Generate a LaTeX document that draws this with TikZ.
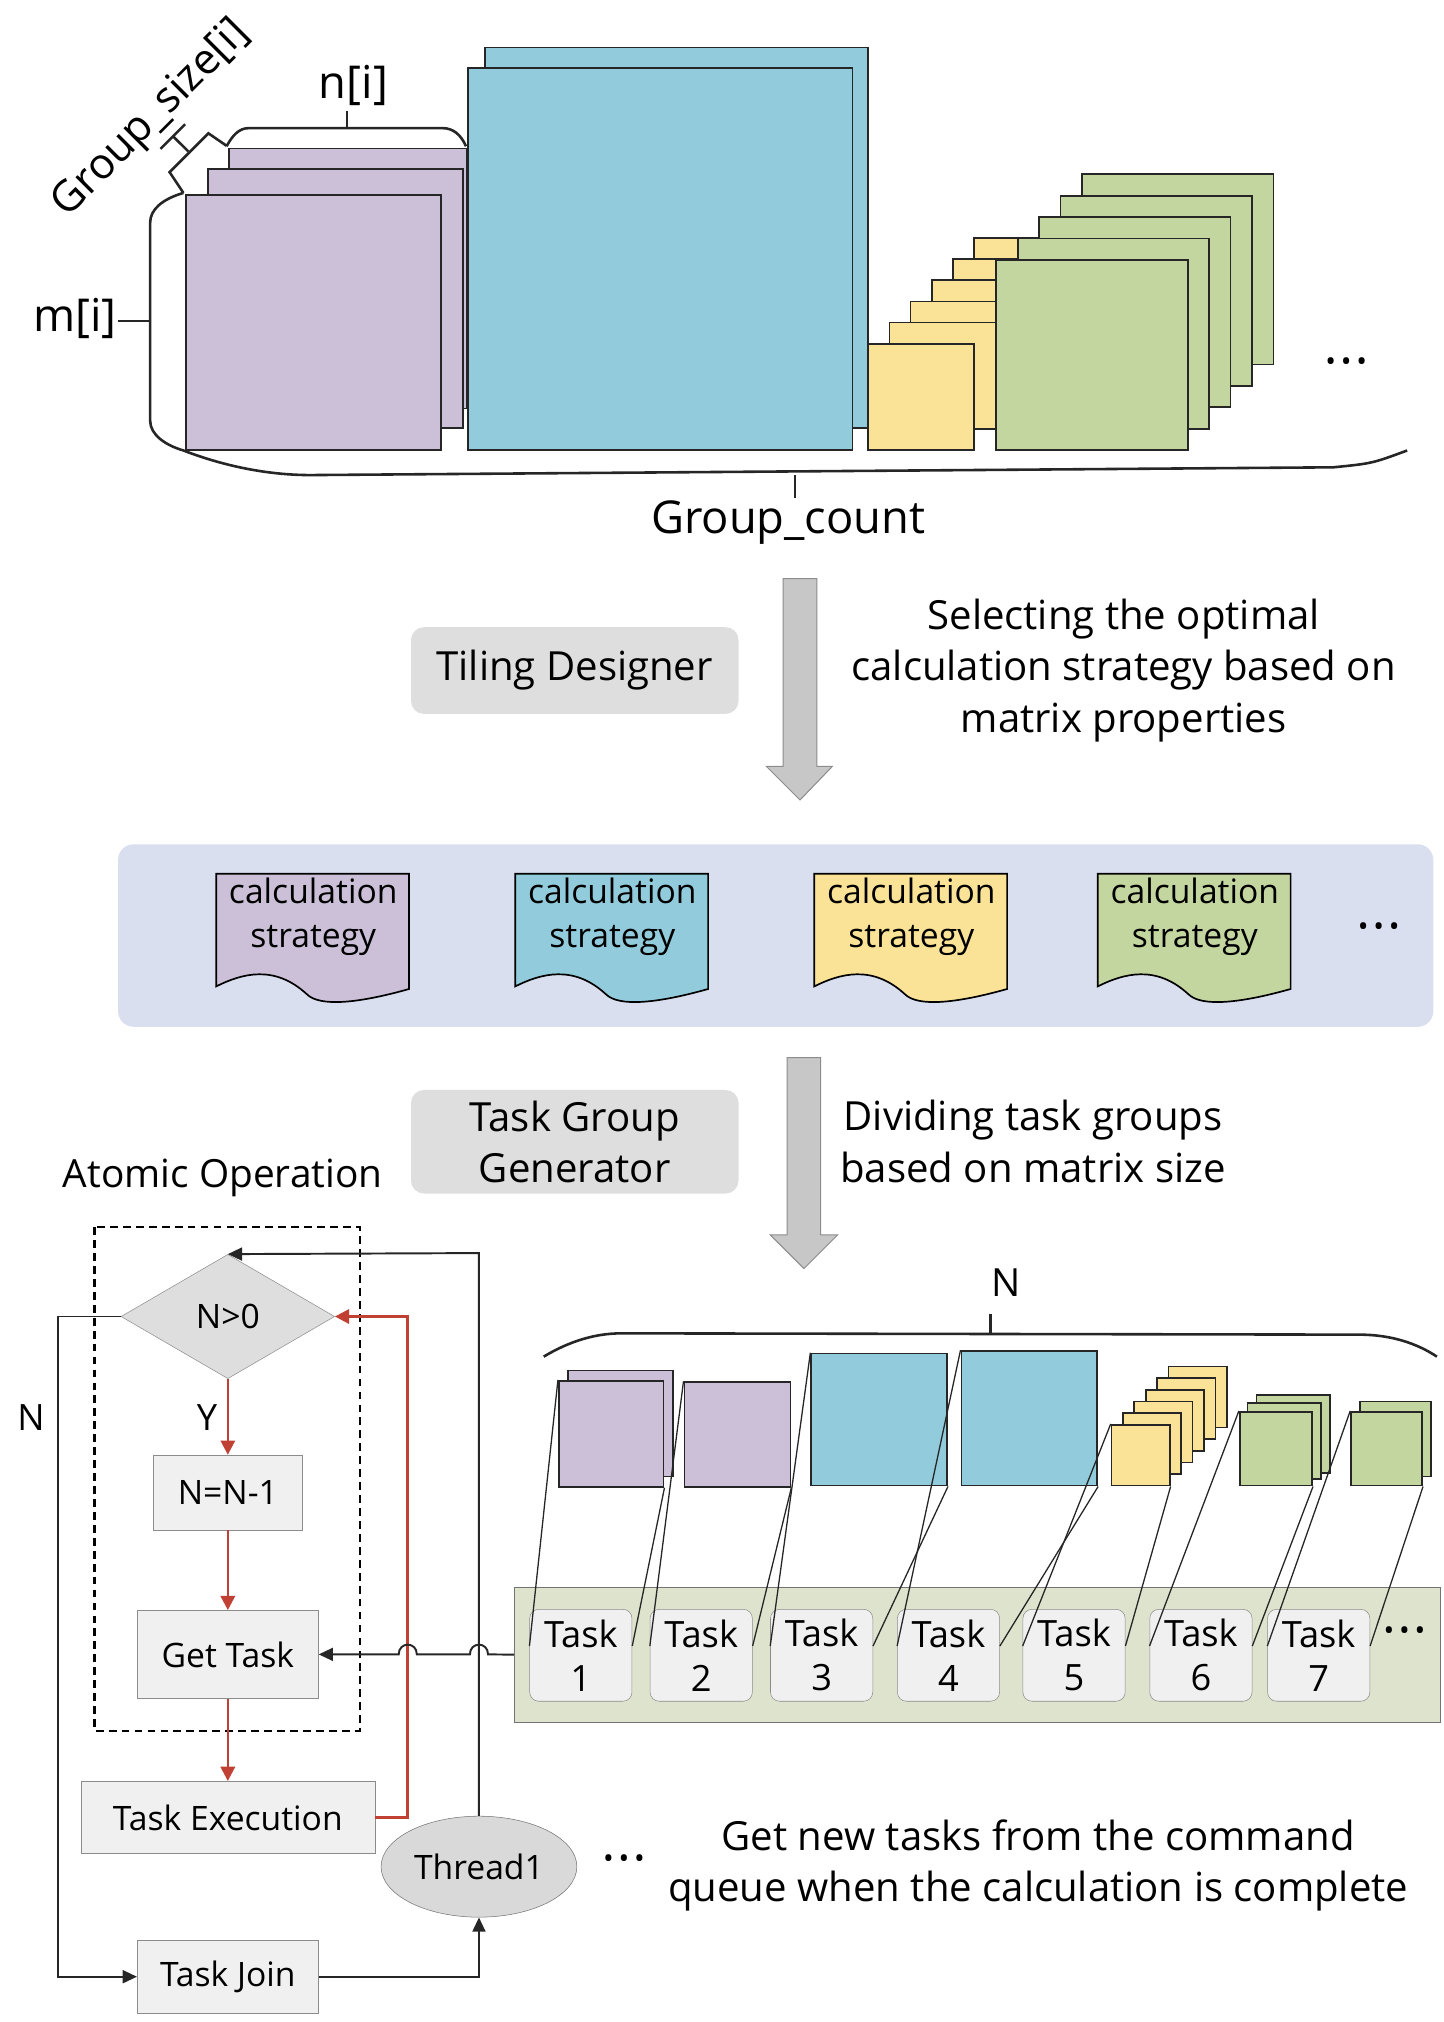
\documentclass[tikz,border=0pt]{standalone}
\usepackage{fontspec}
\setmainfont{Open Sans}
\usetikzlibrary{arrows.meta,shapes.geometric,calc}
\definecolor{cpur}{RGB}{203,192,216}
\definecolor{ccya}{RGB}{146,204,220}
\definecolor{cyel}{RGB}{250,226,150}
\definecolor{cgrn}{RGB}{196,214,160}
\definecolor{cpanel}{RGB}{218,223,240}
\definecolor{ctask}{RGB}{221,227,205}
\definecolor{cred}{RGB}{192,64,52}
\tikzset{
 mat/.style={draw=black!85,line width=1.3pt,inner sep=0pt,anchor=north west},
 lbl/.style={font=\fontsize{30}{36}\selectfont},
 toplbl/.style={font=\fontsize{35}{40}\selectfont,inner sep=1pt},
 big/.style={font=\fontsize{31}{40}\selectfont,align=center},
 graybox/.style={rounded corners=10pt,fill=black!13,font=\fontsize{31}{39}\selectfont,align=center},
 blockarrow/.style={fill=black!22,draw=black!45,line width=0.8pt},
 flow/.style={draw=black!45,fill=black!6,font=\fontsize{26}{30}\selectfont,inner sep=4pt},
 taskbox/.style={draw=black!45,fill=black!6,rounded corners=7pt,font=\fontsize{28}{34}\selectfont,align=center,minimum width=79pt,minimum height=71pt,inner sep=0pt},
 redarr/.style={draw=cred,line width=2pt,-{Triangle[length=11pt,width=11pt]}},
 blkarr/.style={draw=black!85,line width=1.5pt,-{Triangle[length=11pt,width=10pt]}},
 tline/.style={draw=black!85,line width=1pt},
 brace/.style={draw=black!85,line width=2pt},
 dotsty/.style={font=\fontsize{22}{26}\selectfont}
}
\newcommand{\mymat}[6]{\node[mat,fill=#6,minimum width=#4pt,minimum height=#5pt] (#1) at (#2,#3) {};}
\newcommand{\strat}[3]{%
 \draw[line width=1.3pt,fill=#3] (#1,675) -- (#1+149,675) -- (#1+149,764) .. controls (#1+110,775) and (#1+80,778) .. (#1+70,768) .. controls (#1+45,745) and (#1+20,752) .. (#1,762) -- cycle;
 \node[font=\fontsize{26}{34}\selectfont,align=center] (#2) at (#1+75,708) {calculation\\strategy};}
\begin{document}
\begin{tikzpicture}[x=1pt,y=-1pt]
\useasboundingbox (0,0) rectangle (1115,1562);
% ---- top matrices
\mymat{p3}{176}{114}{184}{201}{cpur}
\mymat{p2}{160}{130}{197}{200}{cpur}
\mymat{p1}{143}{150}{197}{197}{cpur}
\mymat{c2}{374}{36}{296}{294}{ccya}
\mymat{c1}{361}{52}{297}{295}{ccya}
\foreach \i in {5,4,3,2,1} {\mymat{y\i}{670+16.4*\i}{265-16.4*\i}{82}{82}{cyel}}
\mymat{y0}{670}{265}{82}{82}{cyel}
\foreach \i in {4,3,2,1} {\mymat{g\i}{769+16.5*\i}{200-16.5*\i}{148}{147}{cgrn}}
\mymat{g0}{769}{200}{148}{147}{cgrn}
\node[dotsty] (dots1) at (1040,282) {•\,•\,•};
% braces
\draw[brace] (141.7,149) .. controls (125,154) and (116,162) .. (116,172) -- (116,325) .. controls (116,336) and (128,344) .. (141.7,348) .. controls (165,357) and (200,367) .. (240,367) -- (1030,361) .. controls (1060,358) .. (1087,348);
\draw[brace] (614,367) -- (614,385);
\node[toplbl] (gc) at (609,404) {Group\_count};
\draw[brace] (116,248) -- (91,248);
\node[toplbl] (mi) at (58,246) {m[i]};
\draw[brace] (175,113) .. controls (180,104) and (185,99) .. (192,99) -- (342,99) .. controls (350,99) and (356,104) .. (360,113);
\draw[brace] (268,99) -- (268,86);
\node[toplbl] (ni) at (273,66) {n[i]};
\draw[brace] (141.7,149) -- (131,133) -- (161,103) -- (175,112.6);
\draw[brace] (145.5,117) -- (134,105.6);
\draw[brace] (124,115) -- (143,96);
\node[toplbl,rotate=45,font=\fontsize{33}{38}\selectfont] (gs) at (117,92) {Group\_size[i]};
% ---- arrow 1
\draw[blockarrow] (605,447) -- (631,447) -- (631,592) -- (643,592) -- (618,618) -- (592,592) -- (605,592) -- cycle;
\node[graybox,minimum width=253pt,minimum height=67pt] (tiling) at (444,518) {Tiling Designer};
\node[big] (sel) at (868,518) {Selecting the optimal\\calculation strategy based on\\matrix properties};
% ---- strategy panel
\node[fill=cpanel,rounded corners=12pt,minimum width=1016pt,minimum height=141pt,anchor=north west] (panel) at (91,652) {};
\strat{167}{s1}{cpur}
\strat{398}{s2}{ccya}
\strat{629}{s3}{cyel}
\strat{848}{s4}{cgrn}
\node[dotsty] (dots2) at (1065,718) {•\,•\,•};
% ---- arrow 2
\draw[blockarrow] (608,817) -- (634,817) -- (634,954) -- (647,954) -- (621,980) -- (595,954) -- (608,954) -- cycle;
\node[graybox,minimum width=253pt,minimum height=80pt] (tgg) at (444,882) {Task Group\\Generator};
\node[big] (div) at (798,882) {Dividing task groups\\based on matrix size};
% ---- flowchart
\node[lbl] (atom) at (172,910) {Atomic Operation};
\draw[dash pattern=on 6pt off 4pt,line width=1.6pt] (73,948) rectangle (278,1337);
\node[diamond,draw=black!45,fill=black!13,minimum width=165pt,minimum height=96pt,aspect=1.7,inner sep=0pt,font=\fontsize{26}{30}\selectfont] (dia) at (176,1017) {N>0};
\node[flow,minimum width=115pt,minimum height=58pt] (nn) at (176,1153) {N=N-1};
\node[flow,minimum width=140pt,minimum height=68pt] (get) at (176,1278) {Get Task};
\node[flow,minimum width=227pt,minimum height=56pt] (exec) at (176,1404) {Task Execution};
\node[ellipse,draw=black!55,fill=black!15,minimum width=140pt,minimum height=78pt,font=\fontsize{26}{30}\selectfont] (th) at (370,1442) {Thread1};
\node[flow,minimum width=140pt,minimum height=56pt] (join) at (176,1527) {Task Join};
\node[dotsty] (dots3) at (482,1438) {•\,•\,•};
\node[big] (get2) at (802,1441) {Get new tasks from the command\\queue when the calculation is complete};
\node[font=\fontsize{28}{30}\selectfont] (ylab) at (160,1095) {Y};
\node[font=\fontsize{28}{30}\selectfont] (nlab) at (24,1095) {N};
\draw[redarr] (dia.south) -- (nn.north);
\draw[redarr] (nn.south) -- (get.north);
\draw[redarr] (get.south) -- (exec.north);
\draw[redarr] (exec.east) -- (315,1404) -- (315,1017) -- (dia.east);
\draw[blkarr] (th.north) -- (370,968) -- (dia.north);
\draw[blkarr] (dia.west) -- (45,1017) -- (45,1527) -- (join.west);
\draw[blkarr] (join.east) -- (370,1527) -- (th.south);
% ---- task panel
\node[draw=black!55,fill=ctask,minimum width=715pt,minimum height=104pt,anchor=north west,inner sep=0pt] (tp) at (397,1226) {};
\draw[blkarr] (tp.west) -- (377,1278) .. controls (377,1268) and (363,1268) .. (363,1278) -- (322,1278) .. controls (322,1268) and (308,1268) .. (308,1278) -- (get.east);
\foreach \n/\x in {1/409,2/502,3/595,4/693,5/790,6/888,7/979} {
 \node[taskbox,anchor=north west] (t\n) at (\x,1243) {Task\\\n};
}
\node[dotsty] (dots4) at (1085,1262) {•\,•\,•};
% task matrices
\mymat{m1b}{438}{1058}{81}{82}{cpur}
\mymat{m1}{431}{1066}{81}{82}{cpur}
\mymat{m2}{528}{1067}{82}{81}{cpur}
\mymat{m3}{626}{1045}{105}{102}{ccya}
\mymat{m4}{742}{1043}{105}{104}{ccya}
\foreach \i in {5,4,3,2,1} {\mymat{m5\i}{858+8.8*\i}{1100-9*\i}{45}{47}{cyel}}
\mymat{m5}{858}{1100}{45}{47}{cyel}
\mymat{m6c}{970}{1077}{57}{60}{cgrn}
\mymat{m6b}{963}{1083}{57}{59}{cgrn}
\mymat{m6}{957}{1090}{56}{57}{cgrn}
\mymat{m7b}{1050}{1082}{55}{58}{cgrn}
\mymat{m7}{1043}{1090}{55}{57}{cgrn}
\foreach \n in {1,...,7} {
 \draw[tline] ($(t\n.north west)!0.4!(t\n.south west)$) -- (m\n.north west);
 \draw[tline] ($(t\n.north east)!0.4!(t\n.south east)$) -- (m\n.south east);
}
\draw[brace] (420,1048) .. controls (440,1036) and (460,1030) .. (480,1030) -- (1050,1031) .. controls (1075,1031) and (1095,1038) .. (1110,1048);
\draw[brace] (765,1030) -- (765,1015);
\node[lbl] (ntop) at (777,991) {N};
\end{tikzpicture}
\end{document}
